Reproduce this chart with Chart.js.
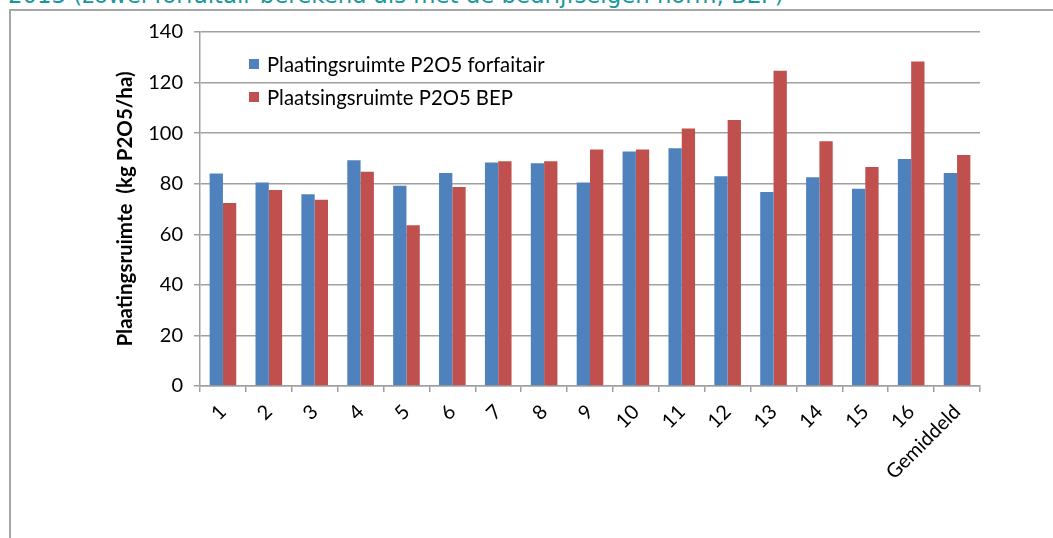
<!DOCTYPE html>
<html lang="nl">
<head>
  <meta charset="UTF-8" />
  <title>Plaatsingsruimte P2O5</title>
  <script src="https://cdn.jsdelivr.net/npm/chart.js"></script>
  <style>
    body { margin: 0; background: #fff; overflow: hidden; }
    #wrap { position: relative; width: 1053px; height: 538px; }
    #kop { position: absolute; left: 8px; top: -18px; font-family: "DejaVu Sans", sans-serif; font-size: 22.8px; color: #17999b; white-space: nowrap; }
    #kader { position: absolute; left: 9px; top: 9px; right: 0; bottom: 0; border-left: 2px solid #a6a6a6; border-top: 2px solid #a6a6a6; }
    canvas { position: absolute; left: 0; top: 0; }
  </style>
</head>
<body>
<div id="wrap">
  <div id="kop">2013 (zowel forfaitair berekend als met de bedrijfseigen norm, BEP)</div>
  <div id="kader"></div>
  <canvas id="grafiek" width="1053" height="538"></canvas>
</div>

<script>
const categorieen = ['1','2','3','4','5','6','7','8','9','10','11','12','13','14','15','16','Gemiddeld'];
const forfaitair = [84.0, 80.5, 75.8, 89.3, 79.2, 84.2, 88.4, 88.1, 80.5, 92.7, 94.0, 83.0, 76.7, 82.6, 78.0, 89.8, 84.2];
const bep = [72.4, 77.5, 73.7, 84.7, 63.6, 78.7, 88.9, 88.9, 93.5, 93.5, 101.8, 105.2, 124.7, 96.8, 86.6, 128.3, 91.4];
const yTicks = [0, 20, 40, 60, 80, 100, 120, 140];

// legenda linksboven binnen het plotgebied
const legendaBinnen = {
  id: 'legendaBinnen',
  afterDraw(chart) {
    const ctx = chart.ctx;
    ctx.save();
    ctx.font = '20.3px Lato';
    ctx.textBaseline = 'middle';
    chart.data.datasets.forEach((ds, i) => {
      const y = 64 + i * 33;
      ctx.fillStyle = ds.backgroundColor;
      ctx.fillRect(249, y - 5, 10, 10);
      ctx.fillStyle = '#000';
      ctx.fillText(ds.label, 267, y + 1);
    });
    ctx.restore();
  }
};

new Chart(document.getElementById('grafiek'), {
  type: 'bar',
  data: {
    labels: categorieen,
    datasets: [
      { label: 'Plaatingsruimte P2O5 forfaitair', data: forfaitair, backgroundColor: '#4f81bd', barPercentage: 1, categoryPercentage: 0.58 },
      { label: 'Plaatsingsruimte P2O5 BEP', data: bep, backgroundColor: '#c0504d', barPercentage: 1, categoryPercentage: 0.58 }
    ]
  },
  options: {
    responsive: false,
    animation: false,
    layout: { padding: { left: 110, right: 73, top: 32, bottom: 0 } },
    plugins: { legend: { display: false }, tooltip: { enabled: false } },
    scales: {
      x: {
        grid: { drawOnChartArea: false, drawTicks: true, tickLength: 6, color: '#a0a0a0', lineWidth: 1.5 },
        border: { color: '#a0a0a0', width: 1.5 },
        ticks: { color: '#000', font: { family: 'Lato', size: 20 }, minRotation: 45, maxRotation: 45, padding: 8 },
        afterFit(s) { s.height = 152; }
      },
      y: {
        min: 0, max: 140,
        afterBuildTicks(s) { s.ticks = yTicks.map(v => ({ value: v })); },
        grid: { color: '#a0a0a0', lineWidth: 1.5, tickLength: 6 },
        border: { color: '#a0a0a0', width: 1.5 },
        ticks: { color: '#000', font: { family: 'Lato', size: 20 }, padding: 11 },
        title: { display: true, text: 'Plaatingsruimte  (kg P2O5/ha)', color: '#000', font: { family: 'Lato', size: 20.5, weight: 'bold' }, padding: { top: 3, bottom: 0 } },
        afterFit(s) { s.width = 90; }
      }
    }
  },
  plugins: [legendaBinnen]
});
</script>
</body>
</html>
